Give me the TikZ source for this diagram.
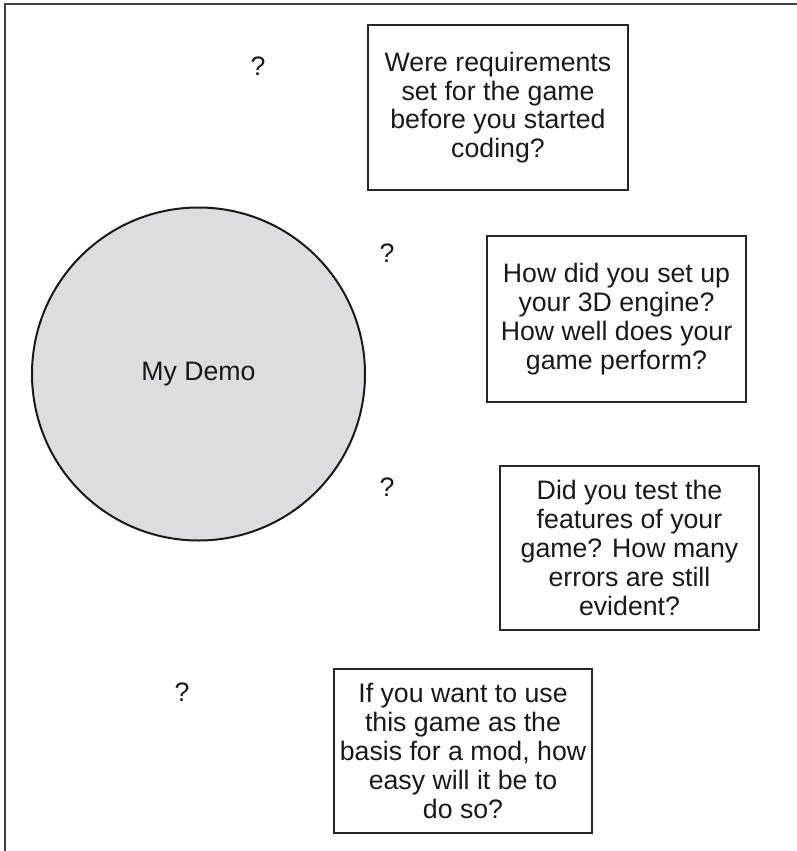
\documentclass[tikz,border=0pt]{standalone}
\usepackage{fontspec}
\setmainfont{Liberation Sans}
\begin{document}
\begin{tikzpicture}[x=1pt,y=-1pt,
  qbox/.style={draw=black!85,line width=2pt,rectangle,inner sep=0pt,outer sep=0pt,
    align=center,font=\fontsize{26.7}{28.8}\selectfont,text=black!90},
  qmark/.style={inner sep=0pt,font=\fontsize{26.7}{28.8}\selectfont,text=black!90},
  demo/.style={circle,draw=black!90,line width=2pt,fill=demogray,inner sep=0pt,
    minimum size=333pt,font=\fontsize{26.7}{28.8}\selectfont,text=black!90}]
\definecolor{demogray}{HTML}{DCDDDF}
\useasboundingbox (0,0) rectangle (797,851);
% frame
\coordinate (ftl) at (5,4);
\coordinate (ftr) at (797,4);
\coordinate (fbl) at (5,851);
\draw[line width=1.3pt,black!75] (fbl) -- (ftl) -- (ftr);
% central circle
\node[demo] (demo) at (198.5,374) {My Demo};
% question boxes
\node[qbox,minimum width=260pt,minimum height=165pt] (b1) at (498,107.5)
  {Were requirements\\set for the game\\before you started\\coding?};
\node[qbox,minimum width=259pt,minimum height=166pt] (b2) at (616.5,319)
  {How did you set up\\your 3D engine?\\How well does your\\game perform?};
\node[qbox,minimum width=259pt,minimum height=164pt] (b3) at (629.5,548)
  {Did you test the\\features of your\\game? How many\\errors are still\\evident?};
\node[qbox,minimum width=258pt,minimum height=164pt] (b4) at (463,751)
  {If you want to use\\this game as the\\basis for a mod, how\\easy will it be to\\do so?};
% question marks
\node[qmark] (q1) at (258,66) {?};
\node[qmark] (q2) at (387,253) {?};
\node[qmark] (q3) at (387,487) {?};
\node[qmark] (q4) at (182,692) {?};
\end{tikzpicture}
\end{document}
